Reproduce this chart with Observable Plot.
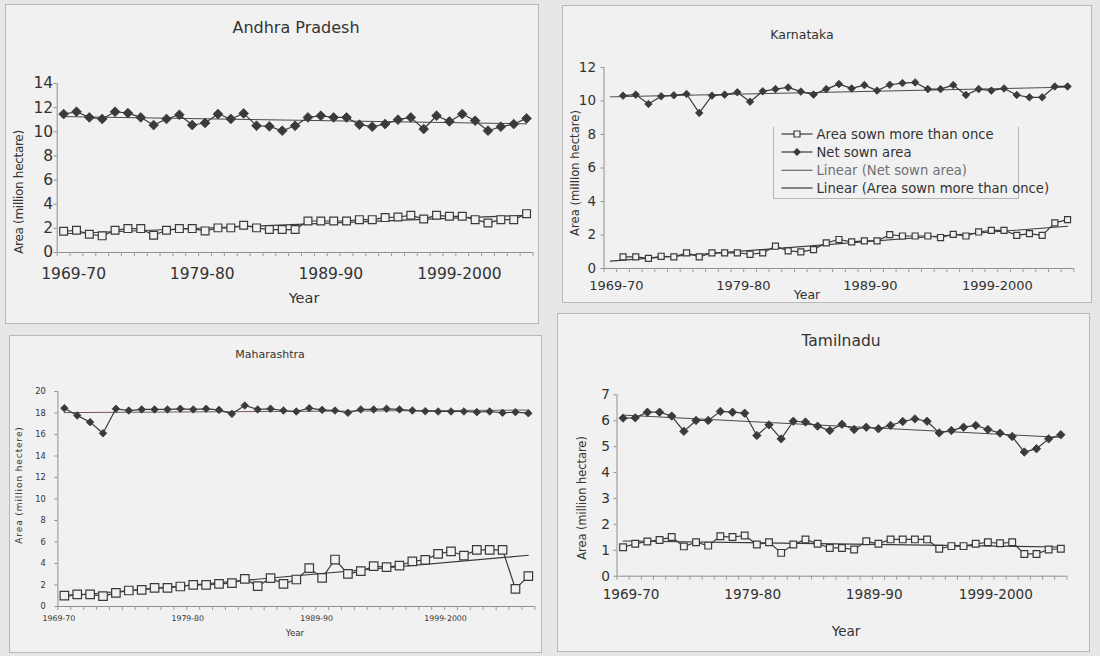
<!DOCTYPE html>
<html>
<head>
<meta charset="utf-8">
<script src="https://cdn.jsdelivr.net/npm/d3@7"></script>
<script src="https://cdn.jsdelivr.net/npm/@observablehq/plot@0.6"></script>
<style>
  body { margin: 0; background: #e7e7e7; }
  #wrap { position: relative; width: 1100px; height: 656px; overflow: hidden; background: #e7e7e7;
          font-family: "DejaVu Sans", Verdana, sans-serif; color: #333; }
  .panel { position: absolute; border: 1px solid #b8b8b8; background: #f1f1f1; box-sizing: border-box; }
  .plot { position: absolute; }
  .t { position: absolute; white-space: nowrap; color: #333; transform: translate(-50%, -50%); line-height: 1; }
  .yt { transform: translate(-50%, -50%) rotate(-90deg); }
</style>
</head>
<body>
<div id="wrap"></div>
<script>
// ---------- data ----------
const years = ["1969-70","1970-71","1971-72","1972-73","1973-74","1974-75","1975-76","1976-77","1977-78","1978-79",
  "1979-80","1980-81","1981-82","1982-83","1983-84","1984-85","1985-86","1986-87","1987-88","1988-89",
  "1989-90","1990-91","1991-92","1992-93","1993-94","1994-95","1995-96","1996-97","1997-98","1998-99",
  "1999-2000","2000-01","2001-02","2002-03","2003-04","2004-05","2005-06"];
const tickLabels = ["1969-70","1979-80","1989-90","1999-2000"];
const seriesNames = ["Area sown more than once","Net sown area","Linear (Net sown area)","Linear (Area sown more than once)"];

const andhraNet = [11.47,11.66,11.19,11.06,11.66,11.55,11.19,10.56,11.06,11.41,10.56,10.73,11.47,11.06,11.52,10.50,10.45,10.09,10.50,11.19,
  11.33,11.19,11.19,10.59,10.42,10.64,11.00,11.19,10.23,11.33,10.86,11.47,10.92,10.09,10.42,10.64,11.11];
const andhraMore = [1.76,1.84,1.51,1.38,1.84,1.98,1.98,1.43,1.84,1.98,1.98,1.79,2.04,2.04,2.26,2.04,1.90,1.90,1.90,2.61,
  2.61,2.61,2.61,2.72,2.72,2.89,2.94,3.08,2.78,3.08,3.00,3.00,2.72,2.45,2.72,2.72,3.22];

const karnatakaNet = [null,10.32,10.38,9.82,10.28,10.34,10.42,9.29,10.32,10.38,10.52,9.96,10.58,10.71,10.81,10.56,10.38,10.71,11.01,10.75,
  10.95,10.62,10.97,11.07,11.11,10.71,10.71,10.95,10.36,10.71,10.62,10.75,10.36,10.22,10.22,10.87,10.87];
const karnatakaMore = [null,0.69,0.69,0.60,0.73,0.69,0.93,0.69,0.93,0.93,0.93,0.85,0.93,1.33,1.05,0.99,1.13,1.53,1.73,1.59,
  1.65,1.65,2.02,1.94,1.94,1.94,1.85,2.04,1.94,2.18,2.28,2.28,1.98,2.08,1.98,2.72,2.92];

const maharashtraNet = [18.45,17.77,17.15,16.12,18.39,18.23,18.33,18.33,18.33,18.39,18.33,18.39,18.29,17.92,18.70,18.33,18.39,18.23,18.14,18.45,
  18.29,18.23,18.02,18.33,18.33,18.39,18.33,18.23,18.17,18.14,18.14,18.14,18.08,18.14,18.02,18.08,17.98];
const maharashtraMore = [1.02,1.12,1.12,0.96,1.27,1.49,1.55,1.74,1.74,1.86,2.02,2.02,2.11,2.17,2.57,1.89,2.64,2.11,2.51,3.57,
  2.67,4.37,3.04,3.29,3.75,3.66,3.81,4.19,4.34,4.90,5.12,4.74,5.27,5.27,5.27,1.64,2.82];

const tamilnaduNet = [6.10,6.11,6.33,6.33,6.18,5.59,6.01,6.01,6.36,6.33,6.29,5.43,5.84,5.30,5.98,5.95,5.79,5.62,5.86,5.66,
  5.75,5.69,5.82,5.97,6.07,5.98,5.53,5.62,5.75,5.82,5.66,5.52,5.39,4.79,4.92,5.30,5.46];
const tamilnaduMore = [1.12,1.25,1.34,1.40,1.51,1.15,1.31,1.18,1.54,1.51,1.57,1.22,1.31,0.90,1.22,1.42,1.25,1.09,1.09,1.03,
  1.35,1.25,1.42,1.42,1.42,1.42,1.06,1.16,1.16,1.25,1.31,1.27,1.31,0.86,0.86,1.03,1.06];

const andhraTicks = [0,2,4,6,8,10,12,14];
const karnatakaTicks = [0,2,4,6,8,10,12];
const maharashtraTicks = [0,2,4,6,8,10,12,14,16,18,20];
const tamilnaduTicks = [0,1,2,3,4,5,6,7];

// ---------- helpers ----------
const wrap = document.getElementById("wrap");
const BG = "#f1f1f1", INK = "#333";

function toRows(arr) {
  return arr.map((v, i) => ({i, year: years[i], v})).filter(d => d.v != null);
}
function trend(arr) {
  const pts = toRows(arr);
  const mx = d3.mean(pts, d => d.i), my = d3.mean(pts, d => d.v);
  const b = d3.sum(pts, d => (d.i - mx) * (d.v - my)) / d3.sum(pts, d => (d.i - mx) ** 2);
  const a = my - b * mx;
  return [0, years.length - 1].map(i => ({i, v: a + b * i}));
}
function addText(txt, x, y, size, extra = "", cls = "t") {
  const d = document.createElement("div");
  d.className = cls;
  d.style.left = x + "px"; d.style.top = y + "px"; d.style.fontSize = size + "px";
  d.style.cssText += extra;
  d.textContent = txt;
  wrap.appendChild(d);
}

function panel(c) {
  const box = document.createElement("div");
  box.className = "panel";
  Object.assign(box.style, {left: c.box[0] + "px", top: c.box[1] + "px",
    width: (c.box[2] - c.box[0]) + "px", height: (c.box[3] - c.box[1]) + "px"});
  wrap.appendChild(box);

  const W = c.box[2] - c.box[0], H = c.box[3] - c.box[1];
  const net = toRows(c.net), more = toRows(c.more);
  const edges = d3.range(years.length + 1).map(i => i - 0.5);
  const labelIdx = tickLabels.map(l => years.indexOf(l));

  const chart = Plot.plot({
    width: W, height: H,
    marginLeft: c.axisX0 - c.box[0], marginRight: c.box[2] - c.axisX1,
    marginTop: c.yTop - c.box[1], marginBottom: c.box[3] - c.y0,
    style: {background: "transparent", color: INK, fontFamily: '"DejaVu Sans", Verdana, sans-serif', overflow: "visible"},
    x: {type: "linear", domain: [-0.5, years.length - 0.5], axis: null},
    y: {domain: [0, c.yTicks[c.yTicks.length - 1]], axis: null},
    marks: [
      Plot.ruleY([0], {stroke: "#8f8f8f", strokeWidth: 1}),
      Plot.ruleX([-0.5], {stroke: "#8f8f8f", strokeWidth: 1}),
      Plot.axisY({ticks: c.yTicks, tickSize: 3, tickPadding: c.yPad, tickFormat: d => String(d),
                  fontSize: c.yFont, label: null, stroke: "#8f8f8f"}),
      Plot.axisX({ticks: edges, tickSize: 4, tickFormat: () => "", label: null, stroke: "#9a9a9a"}),
      Plot.axisX({ticks: labelIdx, tickSize: 0, tickPadding: c.xPad, tickFormat: i => years[i],
                  fontSize: c.xFont, dx: c.xDx, label: null}),
      Plot.line(trend(c.net), {x: "i", y: "v", stroke: c.trendNetColor || "#4a4a4a", strokeWidth: 1}),
      Plot.line(trend(c.more), {x: "i", y: "v", stroke: "#3a3a3a", strokeWidth: 1.1}),
      Plot.line(net, {x: "i", y: "v", stroke: "#3a3a3a", strokeWidth: 1.2}),
      Plot.line(more, {x: "i", y: "v", stroke: "#3a3a3a", strokeWidth: 1.2}),
      Plot.dot(net, {x: "i", y: "v", symbol: "diamond2", r: c.rNet, fill: "#3a3a3a", stroke: "#3a3a3a", strokeWidth: 0.8}),
      Plot.dot(more, {x: "i", y: "v", symbol: "square", r: c.rMore, fill: BG, stroke: "#3a3a3a", strokeWidth: 1.2})
    ]
  });
  chart.classList.add("plot");
  chart.style.left = c.box[0] + "px";
  chart.style.top = c.box[1] + "px";
  wrap.appendChild(chart);

  addText(c.title, c.titlePos[0], c.titlePos[1], c.titleFont);
  addText("Year", c.yearPos[0], c.yearPos[1], c.yearFont);
  addText(c.yLabel, c.yLabelPos[0], c.yLabelPos[1], c.yLabelFont, c.yLabelExtra || "", "t yt");
}

// ---------- panels ----------
panel({
  title: "Andhra  Pradesh", net: andhraNet, more: andhraMore, yTicks: andhraTicks,
  box: [5, 4, 539, 324], axisX0: 56.7, axisX1: 532.5, yTop: 83, y0: 252,
  yFont: 15.5, yPad: 1, xFont: 15.5, xPad: 15.5, xDx: 10, rNet: 4.4, rMore: 4.4,
  titlePos: [296, 28], titleFont: 16, yearPos: [304, 298], yearFont: 14.5,
  yLabel: "Area (million hectare)", yLabelPos: [19, 192], yLabelFont: 12, yLabelExtra: "letter-spacing:-0.3px;"
});
panel({
  title: "Karnataka", net: karnatakaNet, more: karnatakaMore, yTicks: karnatakaTicks,
  box: [562, 5, 1092, 303], axisX0: 603.5, axisX1: 1073.4, yTop: 67, y0: 268,
  yFont: 13.5, yPad: 5, xFont: 13, xPad: 12.5, xDx: 6, rNet: 3.4, rMore: 3.4,
  titlePos: [802, 35], titleFont: 12.5, yearPos: [807, 295], yearFont: 12.5,
  yLabel: "Area (million hectare)", yLabelPos: [576, 173], yLabelFont: 11.6
});
panel({
  title: "Maharashtra", net: maharashtraNet, more: maharashtraMore, yTicks: maharashtraTicks,
  box: [9, 335, 542, 653], axisX0: 57.4, axisX1: 534.3, yTop: 391, y0: 606,
  yFont: 8.3, yPad: 9, xFont: 7.8, xPad: 8.6, xDx: -5.5, rNet: 3.4, rMore: 4.8,
  titlePos: [270, 354], titleFont: 11, yearPos: [295, 633], yearFont: 8.7,
  yLabel: "Area (million hectere)", yLabelPos: [19, 485], yLabelFont: 9, yLabelExtra: "letter-spacing:0.9px;",
  trendNetColor: "#6e5a55"
});
panel({
  title: "Tamilnadu", net: tamilnaduNet, more: tamilnaduMore, yTicks: tamilnaduTicks,
  box: [557, 313, 1090, 652], axisX0: 616.5, axisX1: 1066.4, yTop: 394.3, y0: 575.7,
  yFont: 13.7, yPad: 4, xFont: 13.6, xPad: 12.8, xDx: 8, rNet: 3.8, rMore: 3.8,
  titlePos: [841, 342], titleFont: 15.5, yearPos: [846, 632], yearFont: 13.5,
  yLabel: "Area (million hectare)", yLabelPos: [583, 498], yLabelFont: 11.4
});

// ---------- legend (Karnataka panel) ----------
(function legend() {
  const lg = d3.select(wrap).append("svg")
    .attr("width", 290).attr("height", 80)
    .style("position", "absolute").style("left", "772px").style("top", "125px")
    .style("overflow", "visible");
  lg.append("path").attr("d", "M1.5,2V73.5H246.5V2").attr("fill", "none").attr("stroke", "#b5b5b5");
  const rows = [9, 27, 45.3, 63];
  const kinds = ["square", "diamond", "trendNet", "trendMore"];
  seriesNames.forEach((name, k) => {
    const y = rows[k];
    const g = lg.append("g").attr("transform", `translate(0,${y})`);
    g.append("line").attr("x1", 9.5).attr("x2", 40.5).attr("y1", 0).attr("y2", 0)
      .attr("stroke", kinds[k] === "trendNet" ? "#6a6a6a" : "#3a3a3a").attr("stroke-width", 1.2);
    if (kinds[k] === "square")
      g.append("path").attr("d", d3.symbol(d3.symbolSquare, 36)()).attr("transform", "translate(25,0)")
        .attr("fill", BG).attr("stroke", "#3a3a3a").attr("stroke-width", 1.2);
    if (kinds[k] === "diamond")
      g.append("path").attr("d", d3.symbol(d3.symbolDiamond2, 40)()).attr("transform", "translate(25,0)")
        .attr("fill", "#3a3a3a");
    g.append("text").attr("x", 44.5).attr("y", 0).attr("dy", "0.35em")
      .attr("font-family", '"DejaVu Sans", Verdana, sans-serif').attr("font-size", 13.2)
      .attr("fill", kinds[k] === "trendNet" ? "#707070" : "#333").text(name);
  });
})();
</script>
</body>
</html>
